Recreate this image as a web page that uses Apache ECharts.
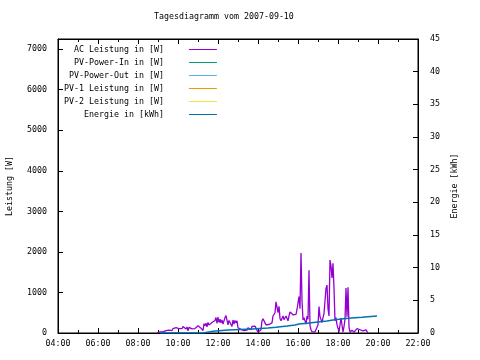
<!DOCTYPE html>
<html>
<head>
<meta charset="utf-8">
<script src="https://cdn.jsdelivr.net/npm/echarts@6/dist/echarts.min.js"></script>
<style>
html,body{margin:0;padding:0;background:#fff;}
#chart{width:480px;height:360px;}
</style>
</head>
<body>
<div id="chart"></div>
<script>
const titleText = "Tagesdiagramm vom 2007-09-10";
const xTickLabels = ["04:00","06:00","08:00","10:00","12:00","14:00","16:00","18:00","20:00","22:00"];
const seriesNames = ["AC Leistung in [W]","PV-Power-In in [W]","PV-Power-Out in [W]","PV-1 Leistung in [W]","PV-2 Leistung in [W]","Energie in [kWh]"];

const acTime = [
"08:57",
"09:00","09:03","09:06","09:09","09:12","09:15","09:18","09:21","09:24","09:27","09:30","09:33","09:36","09:39","09:42","09:45","09:48","09:51","09:54","09:57",
"10:00","10:03","10:06","10:09","10:12","10:15","10:18","10:21","10:24","10:27","10:30","10:33","10:36","10:39","10:42","10:45","10:48","10:51","10:54","10:57",
"11:00","11:03","11:06","11:09","11:12","11:15","11:18","11:21","11:24","11:27","11:30","11:33","11:36","11:39","11:42","11:45","11:48","11:51","11:54","11:57",
"12:00","12:03","12:06","12:09","12:12","12:15","12:18","12:21","12:24","12:27","12:30","12:33","12:36","12:39","12:42","12:45","12:48","12:51","12:54","12:57",
"13:00","13:03","13:06","13:09","13:12","13:15","13:18","13:21","13:24","13:27","13:30","13:33","13:36","13:39","13:42","13:45","13:48","13:51","13:54","13:57",
"14:00","14:03","14:06","14:09","14:12","14:15","14:18","14:21","14:24","14:27","14:30","14:33","14:36","14:39","14:42","14:45","14:48","14:51","14:54","14:57",
"15:00","15:03","15:06","15:09","15:12","15:15","15:18","15:21","15:24","15:27","15:30","15:33","15:36","15:39","15:42","15:45","15:48","15:51","15:54","15:57",
"16:00","16:03","16:06","16:09","16:12","16:15","16:18","16:21","16:24","16:27","16:30","16:33","16:36","16:39","16:42","16:45","16:48","16:51","16:54","16:57",
"17:00","17:03","17:06","17:09","17:12","17:15","17:18","17:21","17:24","17:27","17:30","17:33","17:36","17:39","17:42","17:45","17:48","17:51","17:54","17:57",
"18:00","18:03","18:06","18:09","18:12","18:15","18:18","18:21","18:24","18:27","18:30","18:33","18:36","18:39","18:42","18:45","18:48","18:51","18:54","18:57",
"19:00","19:03","19:06","19:09","19:12","19:15","19:18","19:21","19:24","19:27","19:30"
];
const acPower = [
0,
10,20,25,30,20,30,25,40,60,75,90,70,80,50,60,110,120,90,130,150,
170,110,140,150,110,160,130,170,100,150,55,140,120,150,100,120,90,110,120,100,
180,150,170,120,80,60,230,180,240,150,260,200,240,220,260,300,250,310,380,240,
390,260,340,250,320,220,230,380,430,460,200,310,330,300,160,320,220,310,250,300,
130,110,150,90,120,80,60,90,50,70,130,90,110,80,160,180,140,170,190,150,
20,0,10,80,300,350,380,250,200,220,180,210,200,220,250,420,460,500,770,640,
500,660,360,300,320,420,330,320,420,380,300,420,520,540,500,450,480,440,460,580,
560,900,600,1970,800,320,380,300,220,420,340,1550,180,80,30,20,0,30,10,20,
200,650,400,330,260,380,480,500,1100,1180,600,420,1800,1650,1360,1720,1100,300,380,200,
120,30,0,370,350,30,160,330,1110,400,1130,150,20,40,70,80,20,0,40,110,
120,150,80,70,80,50,70,80,75,60,0
];
const pvPowerIn = [];
const pvPowerOut = [];
const pv1Power = [];
const pv2Power = [];
const energyTime = ["09:06","11:15","11:45","12:30","13:42","14:30","14:54","15:27","15:51","16:03","16:27","17:00","17:27","17:45","18:30","19:12","19:57"];
const energyKWh  = [0,0.26,0.46,0.61,0.77,0.87,1.07,1.22,1.38,1.48,1.68,1.84,1.99,2.25,2.40,2.60,2.60];

const toMin = s => parseInt(s.slice(0,2),10)*60 + parseInt(s.slice(3),10);
const pairs = (t, v) => t.map((s, i) => [toMin(s), v[i]]);

const FONT = "DejaVu Sans Mono";
const FS = 8.3;
const colors = ["#9400D3","#009E73","#56B4E9","#E69F00","#F0E442","#0072B2"];

const chart = echarts.init(document.getElementById('chart'), null, {renderer:'canvas'});
const lineBase = (name, data, color, extra) => Object.assign({
  name, type:'line', data, showSymbol:false, symbol:'none', animation:false,
  lineStyle:{color, width:1.3}, itemStyle:{color}, xAxisIndex:0, yAxisIndex:0
}, extra || {});

chart.setOption({
  animation:false,
  backgroundColor:'#fff',
  textStyle:{fontFamily:FONT, fontSize:FS, color:'#000'},
  title:{text:titleText, left:154, top:13, padding:0,
    textStyle:{fontFamily:FONT, fontSize:FS, fontWeight:'normal', color:'#000'}},
  legend:{
    orient:'vertical', align:'right', left:64, top:43, padding:0, itemGap:0,
    itemWidth:28, itemHeight:1, icon:'rect', selectedMode:false,
    textStyle:{fontFamily:FONT, fontSize:FS, color:'#000', lineHeight:13, padding:[0,20,0,0]},
    data:seriesNames
  },
  grid:{left:58, right:62, top:39, bottom:27, containLabel:false, outerBoundsMode:'none',
    show:true, borderColor:'#000', borderWidth:1, backgroundColor:'transparent'},
  xAxis:[{
    type:'value', min:240, max:1320, interval:120, position:'bottom',
    axisLine:{show:true, onZero:false, lineStyle:{color:'#000', width:1}},
    axisTick:{show:true, inside:true, length:5, lineStyle:{color:'#000'}},
    minorTick:{show:true, splitNumber:2, length:3, lineStyle:{color:'#000'}},
    splitLine:{show:false},
    axisLabel:{margin:7, fontFamily:FONT, fontSize:FS, color:'#000',
      formatter: v => xTickLabels[Math.round((v-240)/120)]}
  },{
    type:'value', min:240, max:1320, interval:120, position:'top',
    axisLine:{show:true, onZero:false, lineStyle:{color:'#000', width:1}},
    axisTick:{show:true, inside:true, length:5, lineStyle:{color:'#000'}},
    minorTick:{show:true, splitNumber:2, length:3, lineStyle:{color:'#000'}},
    splitLine:{show:false}, axisLabel:{show:false}
  }],
  yAxis:[{
    type:'value', min:0, max:7250, interval:1000, position:'left',
    name:'Leistung [W]', nameLocation:'middle', nameGap:44, nameRotate:90,
    nameTextStyle:{fontFamily:FONT, fontSize:FS, color:'#000'},
    axisLine:{show:true, lineStyle:{color:'#000'}},
    axisTick:{show:true, inside:true, length:5, lineStyle:{color:'#000'}},
    splitLine:{show:false},
    axisLabel:{margin:11, showMaxLabel:false, fontFamily:FONT, fontSize:FS, color:'#000',
      formatter: v => String(v)}
  },{
    type:'value', min:0, max:45, interval:5, position:'right',
    name:'Energie [kWh]', nameLocation:'middle', nameGap:31, nameRotate:90,
    nameTextStyle:{fontFamily:FONT, fontSize:FS, color:'#000'},
    axisLine:{show:true, lineStyle:{color:'#000'}},
    axisTick:{show:true, inside:true, length:5, lineStyle:{color:'#000'}},
    splitLine:{show:false},
    axisLabel:{margin:12, fontFamily:FONT, fontSize:FS, color:'#000',
      formatter: v => String(v)}
  }],
  series:[
    lineBase(seriesNames[0], pairs(acTime, acPower), colors[0]),
    lineBase(seriesNames[1], pvPowerIn, colors[1]),
    lineBase(seriesNames[2], pvPowerOut, colors[2]),
    lineBase(seriesNames[3], pv1Power, colors[3]),
    lineBase(seriesNames[4], pv2Power, colors[4]),
    lineBase(seriesNames[5], pairs(energyTime, energyKWh), colors[5], {yAxisIndex:1, step:'end', lineStyle:{color:colors[5], width:1.5}})
  ]
});
</script>
</body>
</html>
